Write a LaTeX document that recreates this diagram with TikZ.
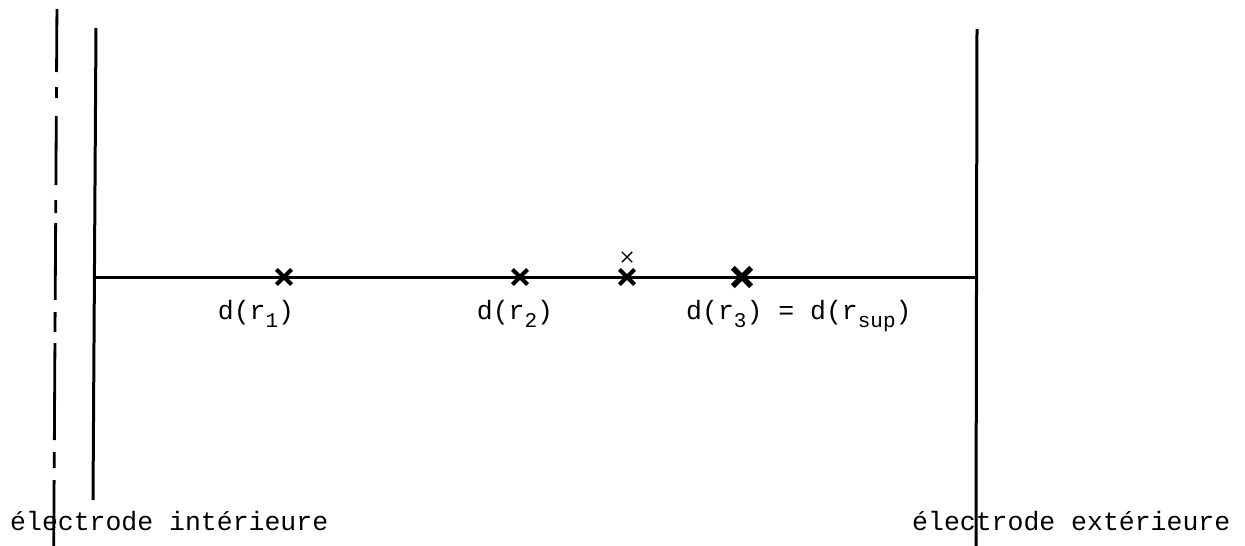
\documentclass[tikz,border=0pt]{standalone}
\usepackage{fontspec}
\setmainfont{Liberation Mono}
\usetikzlibrary{shapes.misc}
\newcommand\lowsub[1]{\raisebox{-0.32em}{\fontsize{21}{24}\selectfont #1}}
\begin{document}
\begin{tikzpicture}[x=1pt,y=-1pt,
  wire/.style={line width=3pt},
  dashwire/.style={line width=2.8pt},
  xm/.style={cross out, draw, inner sep=0pt, minimum size=11pt, line width=4.2pt},
  bigxm/.style={cross out, draw, inner sep=0pt, minimum size=13pt, line width=5.4pt},
  smallxm/.style={cross out, draw, inner sep=0pt, minimum size=9pt, line width=1.4pt},
  lab/.style={font=\fontsize{26.5}{30}\selectfont, inner sep=0pt}]
\useasboundingbox (0,0) rectangle (1245,546);
% electrodes
\coordinate (intTop) at (96,28);
\coordinate (intBot) at (93,500);
\coordinate (extTop) at (977,29);
\coordinate (extBot) at (976,546);
\coordinate (axisL) at (95,277);
\coordinate (axisR) at (976,277);
\draw[wire] (intTop) -- (intBot);
\draw[wire] (extTop) -- (extBot);
\draw[wire] (axisL) -- (axisR);
% dash-dot axis line
\foreach \a/\b in {9/72, 87/98, 116/185, 200/213, 223/300, 312/332, 343/440, 452/468, 480/546}
  \draw[dashwire] (57-\a*0.006,\a) -- (57-\b*0.006,\b);
% crosses
\node[xm] (x1) at (284,277) {};
\node[xm] (x2) at (520,277) {};
\node[xm] (x3) at (627,277) {};
\node[bigxm] (x4) at (742,277) {};
\node[smallxm] (x5) at (627,257) {};
% labels
\node[lab, anchor=base] (l1) at (256,319) {d(r\lowsub{1})};
\node[lab, anchor=base] (l2) at (515,319) {d(r\lowsub{2})};
\node[lab, anchor=base west] (l3) at (686,319) {d(r\lowsub{3}) = d(r\lowsub{sup})};
\node[lab, anchor=base west] (li) at (10,530) {électrode intérieure};
\node[lab, anchor=base west] (le) at (912,530) {électrode extérieure};
\end{tikzpicture}
\end{document}
